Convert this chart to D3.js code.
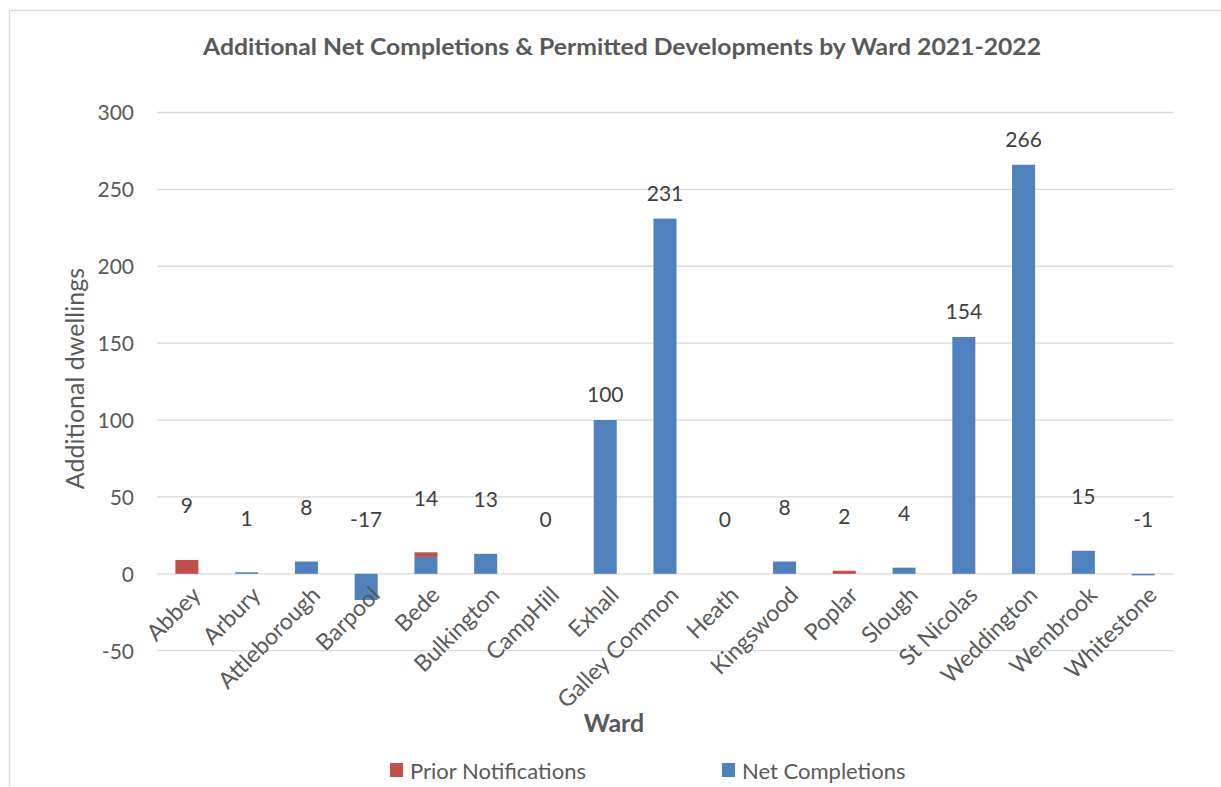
<!DOCTYPE html>
<html>
<head>
<meta charset="utf-8">
<script src="https://cdn.jsdelivr.net/npm/d3@7"></script>
<style>
  html, body { margin: 0; padding: 0; background: #fff; }
  svg { display: block; font-family: Lato, "Open Sans", sans-serif; }
</style>
</head>
<body>
<svg id="chart" width="1221" height="787"></svg>
<script>
// ---- data ----
const wards = ["Abbey","Arbury","Attleborough","Barpool","Bede","Bulkington","CampHill","Exhall","Galley Common","Heath","Kingswood","Poplar","Slough","St Nicolas","Weddington","Wembrook","Whitestone"];
const netCompletions = [0, 1, 8, -17, 11, 13, 0, 100, 231, 0, 8, 0, 4, 154, 266, 15, -1];
const priorNotifications = [9, 0, 0, 0, 3, 0, 0, 0, 0, 0, 0, 2, 0, 0, 0, 0, 0];
const yTicks = [-50, 0, 50, 100, 150, 200, 250, 300];
const seriesNames = ["Prior Notifications", "Net Completions"];
const titleText = "Additional Net Completions & Permitted Developments by Ward 2021-2022";
const yTitle = "Additional dwellings";
const xTitle = "Ward";

// ---- layout ----
const W = 1221, H = 787;
const plot = { left: 157, right: 1173, top: 112.5, bottom: 650.7 };
const colors = { prior: "#C0504D", net: "#4F81BD", grid: "#D9D9D9", text: "#595959", label: "#404040" };

const svg = d3.select("#chart");

// outer chart border
svg.append("path")
  .attr("d", `M9.5,${H} L9.5,10.5 L${W},10.5`)
  .attr("fill", "none").attr("stroke", "#D9D9D9").attr("stroke-width", 1.5);

const x = d3.scaleBand().domain(wards).range([plot.left, plot.right]).paddingInner(0.615).paddingOuter(0.3075);
const y = d3.scaleLinear().domain([-50, 300]).range([plot.bottom, plot.top]);

// gridlines
svg.append("g").selectAll("line").data(yTicks).join("line")
  .attr("x1", plot.left).attr("x2", plot.right)
  .attr("y1", d => y(d)).attr("y2", d => y(d))
  .attr("stroke", colors.grid).attr("stroke-width", 1.3);

// y axis labels
const yAxis = d3.axisLeft(y).tickValues(yTicks).tickSize(0).tickPadding(0).tickFormat(d => String(d));
const gy = svg.append("g").attr("transform", `translate(${plot.left - 23},0)`).call(yAxis);
gy.select(".domain").remove();
gy.selectAll("text").attr("fill", colors.text).style("font-size", "21px").style("font-family", "Lato, sans-serif").attr("dy", "0.35em");

// bars: net completions (bottom) and prior notifications stacked above
const rows = wards.map((w, i) => ({ ward: w, net: netCompletions[i], prior: priorNotifications[i], total: netCompletions[i] + priorNotifications[i] }));

svg.append("g").selectAll("rect").data(rows).join("rect")
  .attr("x", d => x(d.ward))
  .attr("width", x.bandwidth())
  .attr("y", d => y(Math.max(d.net, 0)))
  .attr("height", d => Math.abs(y(d.net) - y(0)))
  .attr("fill", colors.net);

svg.append("g").selectAll("rect").data(rows.filter(d => d.prior > 0)).join("rect")
  .attr("x", d => x(d.ward))
  .attr("width", x.bandwidth())
  .attr("y", d => y(Math.max(d.net, 0) + d.prior))
  .attr("height", d => y(Math.max(d.net, 0)) - y(Math.max(d.net, 0) + d.prior))
  .attr("fill", colors.prior);

// total data labels
svg.append("g").selectAll("text").data(rows).join("text")
  .attr("x", d => x(d.ward) + x.bandwidth() / 2)
  .attr("y", d => y(Math.max(d.total, 0)) - (d.total > 50 ? 25 : 54))
  .attr("text-anchor", "middle")
  .attr("dy", "0.35em")
  .attr("fill", colors.label)
  .style("font-size", "21px")
  .text(d => String(d.total));

// x axis category labels rotated -45
const xAxis = d3.axisBottom(x).tickSize(0).tickPadding(0);
const gx = svg.append("g").attr("transform", `translate(0,${y(0)})`).call(xAxis);
gx.select(".domain").remove();
gx.selectAll("text")
  .attr("fill", colors.text)
  .style("font-size", "23px")
  .style("font-family", "Lato, sans-serif")
  .attr("text-anchor", "end")
  .attr("dy", "0.35em")
  .attr("y", 0).attr("x", 0)
  .attr("transform", `translate(${x.bandwidth()/2 - 2},17) rotate(-45)`);

// title
svg.append("text")
  .attr("x", 622).attr("y", 55)
  .attr("text-anchor", "middle")
  .attr("fill", colors.text)
  .attr("textLength", 838).attr("lengthAdjust", "spacingAndGlyphs")
  .style("font-size", "23px").style("font-weight", "bold")
  .text(titleText);

// y title
svg.append("text")
  .attr("transform", `translate(84,${(plot.top + plot.bottom) / 2 - 3}) rotate(-90)`)
  .attr("text-anchor", "middle")
  .attr("fill", colors.text)
  .style("font-size", "25px")
  .text(yTitle);

// x title
svg.append("text")
  .attr("x", 614).attr("y", 732)
  .attr("text-anchor", "middle")
  .attr("fill", colors.text)
  .style("font-size", "25px").style("font-weight", "bold")
  .text(xTitle);

// legend
const legendItems = [
  { name: seriesNames[0], color: colors.prior, x: 390 },
  { name: seriesNames[1], color: colors.net, x: 722 }
];
const lg = svg.append("g").selectAll("g").data(legendItems).join("g")
  .attr("transform", d => `translate(${d.x},763)`);
lg.append("rect").attr("width", 13).attr("height", 14).attr("fill", d => d.color);
lg.append("text").attr("x", 20).attr("y", 16)
  .attr("fill", colors.text).style("font-size", "22px")
  .text(d => d.name);
</script>
</body>
</html>
